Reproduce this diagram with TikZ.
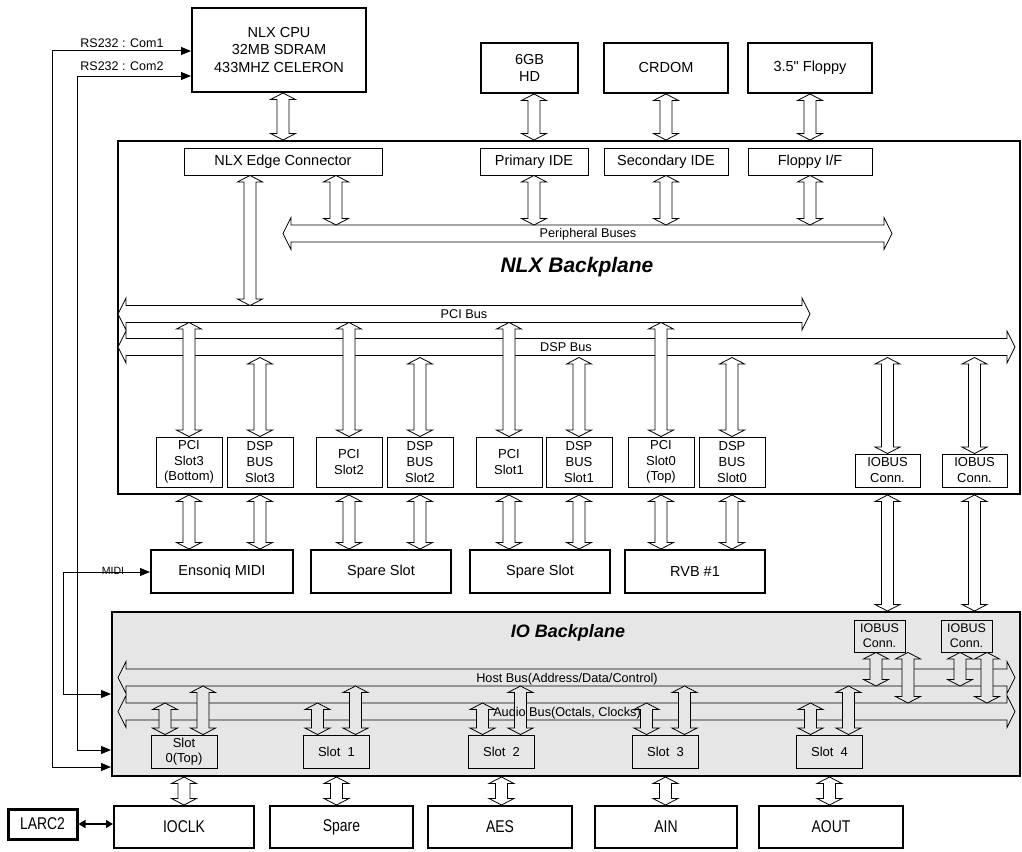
\documentclass[tikz,border=0pt]{standalone}
\usepackage{fontspec}
\setmainfont{Liberation Sans}[Ligatures=TeXOff]
\newfontfamily\narrowfont{Liberation Sans}[FakeStretch=0.82,Ligatures=TeXOff]
\usetikzlibrary{arrows.meta,calc}
\definecolor{iogray}{RGB}{230,230,230}
\newcommand\fs[2]{\fontsize{#1}{#2}\selectfont}
% horizontal bus: left tip x, right tip x, centre y, fill colour
\newcommand\hbus[4]{%
  \filldraw[busline,fill=#4] (#1,#3) -- ({#1+8},{#3-16}) -- ({#1+8},{#3-8.5})
    -- ({#2-8},{#3-8.5}) -- ({#2-8},{#3-16}) -- (#2,#3) -- ({#2-8},{#3+16})
    -- ({#2-8},{#3+8.5}) -- ({#1+8},{#3+8.5}) -- ({#1+8},{#3+16}) -- cycle;}
\tikzset{
  hwbox/.style={draw, line width=2pt, fill=white, inner sep=0pt, align=center, font=\fs{14.5}{17.6}},
  ifbox/.style={draw, line width=0.9pt, fill=white, inner sep=0pt, align=center, font=\fs{14.5}{17.6}},
  slotbox/.style={draw, line width=0.9pt, fill=white, inner sep=0pt, align=center, font=\fs{13}{15.7}},
  ioslot/.style={slotbox, fill=iogray, font=\fs{13}{15}},
  devbox/.style={draw, line width=2pt, fill=white, inner sep=0pt, align=center, font=\narrowfont\fs{17}{20}},
  plane/.style={draw, line width=2pt, inner sep=0pt},
  busline/.style={draw=black, line width=0.8pt},
  buslabel/.style={inner sep=0pt, anchor=base, font=\fs{12.7}{14}},
  title/.style={inner sep=0pt, anchor=base, font=\bfseries\itshape},
  sig/.style={line width=1pt, {Triangle[length=10pt,width=8pt]}-{Triangle[length=10pt,width=8pt]}},
  fat/.style={draw=black, line width=0.8pt, fill=#1, to path={
    let \p1=(\tikztostart), \p2=(\tikztotarget), \n1={ifthenelse(\y2>\y1,1,-1)} in
    (\x1,\y1) -- ({\x1+12.5pt},{\y1+(\n1)*6.5pt}) -- ({\x1+6pt},{\y1+(\n1)*6.5pt})
    -- ({\x1+6pt},{\y2-(\n1)*6.5pt}) -- ({\x1+12.5pt},{\y2-(\n1)*6.5pt}) -- (\x1,\y2)
    -- ({\x1-12.5pt},{\y2-(\n1)*6.5pt}) -- ({\x1-6pt},{\y2-(\n1)*6.5pt})
    -- ({\x1-6pt},{\y1+(\n1)*6.5pt}) -- ({\x1-12.5pt},{\y1+(\n1)*6.5pt}) -- cycle}},
  fat/.default=white
}
\begin{document}
\begin{tikzpicture}[x=1pt,y=-1pt]
\useasboundingbox (0,0) rectangle (1022,851);

% backplanes
\node[plane, fill=white, minimum width=902pt, minimum height=353pt] (nlx) at (569,317.5) {};
\node[plane, fill=iogray, minimum width=908pt, minimum height=164pt] (iob) at (566,694) {};

% CPU and drives
\node[hwbox, minimum width=174pt, minimum height=84pt] (cpu) at (279,50) {NLX CPU\\32MB SDRAM\\433MHZ CELERON};
\node[hwbox, minimum width=97pt, minimum height=50pt, font=\fs{14.5}{16.5}] (hd) at (529.5,68) {6GB\\HD};
\node[hwbox, minimum width=124pt, minimum height=50pt] (crdom) at (666,68) {CRDOM};
\node[hwbox, minimum width=124pt, minimum height=50pt] (floppy) at (810,68) {3.5" Floppy};

% interfaces on the NLX backplane
\node[ifbox, minimum width=198pt, minimum height=27pt] (edge) at (283,161.5) {NLX Edge Connector};
\node[ifbox, minimum width=108pt, minimum height=27pt] (pide) at (534,161.5) {Primary IDE};
\node[ifbox, minimum width=124pt, minimum height=27pt] (side) at (666,161.5) {Secondary IDE};
\node[ifbox, minimum width=124pt, minimum height=27pt] (fif) at (810,161.5) {Floppy I/F};

% NLX buses
\hbus{283}{892}{233.5}{white}
\hbus{118}{810}{314}{white}
\hbus{118}{1015}{347}{white}
\coordinate (perT) at (0,225);
\coordinate (pciT) at (0,305.5);
\coordinate (pciB) at (0,322.5);
\coordinate (dspB) at (0,357.5);

% NLX slots
\node[slotbox, minimum width=66pt, minimum height=50pt] (ps3) at (189,462) {PCI\\Slot3\\(Bottom)};
\node[slotbox, minimum width=66pt, minimum height=50pt] (ds3) at (260,462) {DSP\\BUS\\Slot3};
\node[slotbox, minimum width=66pt, minimum height=50pt] (ps2) at (349,462) {PCI\\Slot2};
\node[slotbox, minimum width=66pt, minimum height=50pt] (ds2) at (420,462) {DSP\\BUS\\Slot2};
\node[slotbox, minimum width=66pt, minimum height=50pt] (ps1) at (509,462) {PCI\\Slot1};
\node[slotbox, minimum width=66pt, minimum height=50pt] (ds1) at (579,462) {DSP\\BUS\\Slot1};
\node[slotbox, minimum width=66pt, minimum height=50pt] (ps0) at (661,462) {PCI\\Slot0\\(Top)};
\node[slotbox, minimum width=66pt, minimum height=50pt] (ds0) at (732,462) {DSP\\BUS\\Slot0};
\node[slotbox, minimum width=65pt, minimum height=33pt, font=\fs{13}{16}] (nio1) at (887.5,470.5) {IOBUS\\Conn.};
\node[slotbox, minimum width=65pt, minimum height=33pt, font=\fs{13}{16}] (nio2) at (974.5,470.5) {IOBUS\\Conn.};

% plug-in cards
\node[hwbox, minimum width=142pt, minimum height=43pt] (midi) at (222,571.5) {Ensoniq MIDI};
\node[hwbox, minimum width=140pt, minimum height=43pt] (spare1) at (381,571.5) {Spare Slot};
\node[hwbox, minimum width=140pt, minimum height=43pt] (spare2) at (540,571.5) {Spare Slot};
\node[hwbox, minimum width=140pt, minimum height=43pt] (rvb) at (695,571.5) {RVB \#1};

% IO backplane buses
\hbus{118}{1015}{677.5}{iogray}
\hbus{118}{1015}{711.5}{iogray}
\coordinate (hostB) at (0,686);
\coordinate (audT) at (0,703);

% IO backplane connectors and slots
\node[ioslot, minimum width=51pt, minimum height=32pt, font=\fs{12.5}{15}] (iio1) at (879.5,636) {IOBUS\\Conn.};
\node[ioslot, minimum width=51pt, minimum height=32pt, font=\fs{12.5}{15}] (iio2) at (966.5,636) {IOBUS\\Conn.};
\node[ioslot, minimum width=66pt, minimum height=33pt] (sl0) at (184,751.5) {Slot\\0(Top)};
\node[ioslot, minimum width=66pt, minimum height=33pt] (sl1) at (336.5,751.5) {Slot\ \ 1};
\node[ioslot, minimum width=66pt, minimum height=33pt] (sl2) at (501.5,751.5) {Slot\ \ 2};
\node[ioslot, minimum width=66pt, minimum height=33pt] (sl3) at (665.5,751.5) {Slot\ \ 3};
\node[ioslot, minimum width=66pt, minimum height=33pt] (sl4) at (829.5,751.5) {Slot\ \ 4};

% IO devices
\node[devbox, line width=3pt, minimum width=69pt, minimum height=30pt] (larc) at (42.5,824) {LARC2};
\node[devbox, minimum width=140pt, minimum height=42pt] (ioclk) at (184,827) {IOCLK};
\node[devbox, minimum width=143pt, minimum height=42pt] (spare) at (341.5,827) {Spare};
\node[devbox, minimum width=144pt, minimum height=42pt] (aes) at (500,827) {AES};
\node[devbox, minimum width=142pt, minimum height=42pt] (ain) at (666,827) {AIN};
\node[devbox, minimum width=144pt, minimum height=42pt] (aout) at (831,827) {AOUT};

% hollow bus connections: CPU and drives
\draw[fat] (edge.north |- cpu.south) to (edge.north |- nlx.north);
\draw[fat] (pide.north |- hd.south) to (pide.north |- nlx.north);
\draw[fat] (side.north |- crdom.south) to (side.north |- nlx.north);
\draw[fat] (fif.north |- floppy.south) to (fif.north |- nlx.north);

% edge connector and interfaces to the buses
\coordinate (ea) at ([xshift=-33pt]edge.south);
\coordinate (eb) at ([xshift=53pt]edge.south);
\draw[fat] (ea) to (ea |- pciT);
\draw[fat] (eb) to (eb |- perT);
\draw[fat] (pide.south) to (pide.south |- perT);
\draw[fat] (side.south) to (side.south |- perT);
\draw[fat] (fif.south) to (fif.south |- perT);

% slots to buses
\foreach \s in {ps3,ps2,ps1,ps0}
  \draw[fat] (\s.north |- pciB) to (\s.north);
\foreach \s in {ds3,ds2,ds1,ds0,nio1,nio2}
  \draw[fat] (\s.north |- dspB) to (\s.north);

% slots to cards
\foreach \s/\t in {ps3/midi,ds3/midi,ps2/spare1,ds2/spare1,ps1/spare2,ds1/spare2,ps0/rvb,ds0/rvb}
  \draw[fat] (\s.south |- nlx.south) to (\s.south |- \t.north);
\draw[fat] (nio1.south |- nlx.south) to (nio1.south |- iob.north);
\draw[fat] (nio2.south |- nlx.south) to (nio2.south |- iob.north);

% IO connectors to IO buses
\coordinate (xa1) at ([xshift=-3.5pt]iio1.south);
\coordinate (xb1) at ([xshift=28.5pt]iio1.south);
\coordinate (xa2) at ([xshift=-6.5pt]iio2.south);
\coordinate (xb2) at ([xshift=20.5pt]iio2.south);
\draw[fat=iogray] (xa1) to (xa1 |- hostB);
\draw[fat=iogray] (xb1) to (xb1 |- audT);
\draw[fat=iogray] (xa2) to (xa2 |- hostB);
\draw[fat=iogray] (xb2) to (xb2 |- audT);

% IO slots to buses and devices
\foreach \s/\t in {sl0/ioclk,sl1/spare,sl2/aes,sl3/ain,sl4/aout}{
  \coordinate (a\s) at ([xshift=-19pt]\s.north);
  \coordinate (b\s) at ([xshift=19pt]\s.north);
  \draw[fat=iogray] (a\s |- audT) to (a\s);
  \draw[fat=iogray] (b\s |- hostB) to (b\s);
  \draw[fat] (\s.south |- iob.south) to (\s.south |- \t.north);
}

% serial and MIDI links
\coordinate (c1t) at (52,51);
\coordinate (c1b) at (52,767);
\coordinate (c2t) at (77,76);
\coordinate (c2b) at (77,750);
\coordinate (mt) at (63,572);
\coordinate (mb) at (63,694);
\draw[sig] (c1t -| cpu.west) -- (c1t) -- (c1b) -- (c1b -| iob.west);
\draw[sig] (c2t -| cpu.west) -- (c2t) -- (c2b) -- (c2b -| iob.west);
\draw[sig] (mt -| midi.west) -- (mt) -- (mb) -- (mb -| iob.west);
\draw[line width=1.5pt, {Triangle[length=7pt,width=8pt]}-{Triangle[length=7pt,width=8pt]}]
  (larc.east) -- (larc.east -| ioclk.west);

% labels
\node[buslabel, font=\fs{12.5}{14}] (com1) at (122,47.5) {RS232 : Com1};
\node[buslabel, font=\fs{12.5}{14}] (com2) at (122,70.5) {RS232 : Com2};
\node[buslabel, font=\fs{10.5}{12}] (midil) at (113,574) {MIDI};
\node[buslabel] (perl) at (588,237.5) {Peripheral Buses};
\node[buslabel] (pcil) at (464,318.5) {PCI Bus};
\node[buslabel] (dspl) at (566,351.5) {DSP Bus};
\node[buslabel] (hostl) at (567,682.5) {Host Bus(Address/Data/Control)};
\node[buslabel] (audl) at (567,716.5) {Audio Bus(Octals, Clocks)};
\node[title, font=\fs{21}{24}\bfseries\itshape] (nlxt) at (577,272) {NLX Backplane};
\node[title, font=\fs{18}{21}\bfseries\itshape] (iot) at (568,637) {IO Backplane};
\end{tikzpicture}
\end{document}
